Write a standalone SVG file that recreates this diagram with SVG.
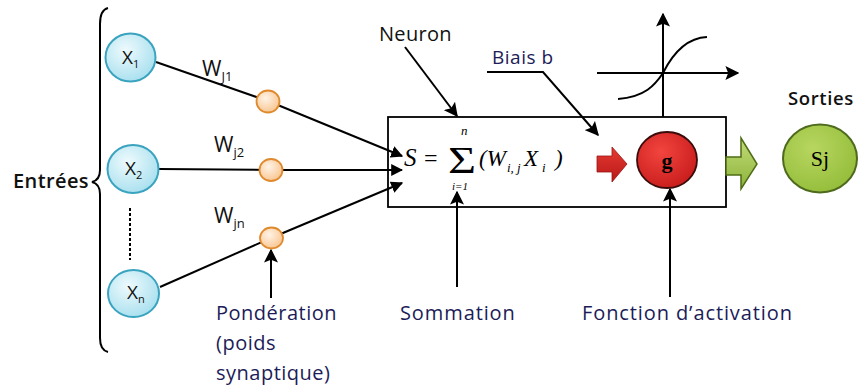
<svg xmlns="http://www.w3.org/2000/svg" width="859" height="390" viewBox="0 0 859 390">
<defs>
<radialGradient id="gBlue" cx="40%" cy="35%" r="70%"><stop offset="0" stop-color="#eefafd"/><stop offset="1" stop-color="#a6dfee"/></radialGradient>
<radialGradient id="gOrange" cx="40%" cy="35%" r="70%"><stop offset="0" stop-color="#fff3e6"/><stop offset="1" stop-color="#f8c48e"/></radialGradient>
<radialGradient id="gRed" cx="40%" cy="35%" r="70%"><stop offset="0" stop-color="#f2453f"/><stop offset="1" stop-color="#c81c1c"/></radialGradient>
<radialGradient id="gGreen" cx="40%" cy="35%" r="70%"><stop offset="0" stop-color="#b7d660"/><stop offset="1" stop-color="#94bd3a"/></radialGradient>
<linearGradient id="gRedArrow" x1="0" y1="0" x2="0" y2="1"><stop offset="0" stop-color="#e63a32"/><stop offset="1" stop-color="#b81818"/></linearGradient>
<linearGradient id="gGreenArrow" x1="0" y1="0" x2="0" y2="1"><stop offset="0" stop-color="#c2dc78"/><stop offset="1" stop-color="#8db33a"/></linearGradient>
<marker id="ah" viewBox="0 0 10 10" refX="9" refY="5" markerWidth="12" markerHeight="12" markerUnits="userSpaceOnUse" orient="auto"><path d="M0,0 L10,5 L0,10 Z" fill="#000"/></marker>
<marker id="ahL" viewBox="0 0 10 10" refX="9" refY="5" markerWidth="14" markerHeight="14" markerUnits="userSpaceOnUse" orient="auto"><path d="M0,0 L10,5 L0,10 L2,5 Z" fill="#000"/></marker>
</defs>
<style>
.ln{stroke:#000;stroke-width:2;fill:none}
.inp{fill:url(#gBlue);stroke:#3aa3bf;stroke-width:2}
.wt{fill:url(#gOrange);stroke:#e08a2e;stroke-width:1.8}
.lbl{font-family:"Open Sans","Liberation Sans",sans-serif;fill:#111}
.nv{font-family:"Open Sans","Liberation Sans",sans-serif;fill:#1c1c58;font-size:20px}
.xt{font-family:"Open Sans","Liberation Sans",sans-serif;fill:#111;font-size:19px}
.xs{font-size:11px}
.wl{font-family:"Open Sans","Liberation Sans",sans-serif;fill:#111;font-size:21px}
.ws{font-size:13px}
.fm{font-family:"Liberation Serif","Times New Roman",serif;font-style:italic;fill:#000}
.rm{font-family:"Liberation Serif","Times New Roman",serif;fill:#000}
</style>
<rect width="859" height="390" fill="#fff"/>

<g id="entrees">
<path class="ln" d="M108,8 Q100,10 100,24 L100,170 Q100,180 92,182 Q100,184 100,194 L100,338 Q100,350 108,352"/>
<text class="lbl" x="13" y="188" font-size="20" font-weight="600" letter-spacing="0.4">Entrées</text>
</g>

<g id="connectors">
<line class="ln" x1="156" y1="62" x2="268" y2="101"/>
<line class="ln" x1="268" y1="101" x2="402" y2="156" marker-end="url(#ah)"/>
<line class="ln" x1="159" y1="169" x2="271" y2="170"/>
<line class="ln" x1="271" y1="170" x2="402" y2="170" marker-end="url(#ah)"/>
<line class="ln" x1="160" y1="287" x2="271" y2="238"/>
<line class="ln" x1="271" y1="238" x2="402" y2="183" marker-end="url(#ah)"/>
<line class="ln" x1="130" y1="208" x2="130" y2="260" stroke-width="3" stroke-dasharray="3,2"/>
<line class="ln" x1="271" y1="298" x2="271" y2="250" marker-end="url(#ahL)"/>
<line class="ln" x1="405" y1="47" x2="457" y2="116" marker-end="url(#ahL)"/>
<polyline class="ln" points="487,72 543,72 598,135" marker-end="url(#ahL)"/>
<line class="ln" x1="457" y1="287" x2="457" y2="192" marker-end="url(#ahL)"/>
<line class="ln" x1="670" y1="297" x2="670" y2="189" marker-end="url(#ahL)"/>
<line class="ln" x1="663" y1="117" x2="663" y2="14" marker-end="url(#ahL)"/>
<line class="ln" x1="597" y1="73" x2="738" y2="73" marker-end="url(#ahL)"/>
<path class="ln" d="M618,99 C645,97 655,85 663,73 C672,55 685,38 707,37"/>
</g>

<g id="x1"><ellipse class="inp" cx="130.5" cy="57.5" rx="25" ry="24"/><text class="xt" x="122" y="64">X<tspan class="xs" dy="4">1</tspan></text></g>
<g id="x2"><ellipse class="inp" cx="133" cy="169" rx="25.5" ry="24"/><text class="xt" x="125" y="175">X<tspan class="xs" dy="4">2</tspan></text></g>
<g id="xn"><ellipse class="inp" cx="133.5" cy="293.5" rx="25.5" ry="23.5"/><text class="xt" x="127" y="299">X<tspan class="xs" dy="4">n</tspan></text></g>

<g id="w1"><ellipse class="wt" cx="268" cy="101.5" rx="11.5" ry="11"/><text class="wl" x="202" y="76">W<tspan class="ws" dy="5">J1</tspan></text></g>
<g id="w2"><ellipse class="wt" cx="271" cy="170" rx="11.5" ry="11"/><text class="wl" x="214" y="152">W<tspan class="ws" dy="5">j2</tspan></text></g>
<g id="wn"><ellipse class="wt" cx="271.5" cy="238" rx="11.5" ry="10.5"/><text class="wl" x="214" y="223">W<tspan class="ws" dy="5">jn</tspan></text></g>

<g id="neuron">
<rect x="388" y="117" width="338" height="90" fill="none" stroke="#000" stroke-width="1.8"/>
<text class="fm" x="404" y="166" font-size="25">S</text>
<text class="rm" x="424" y="166" font-size="24">=</text>
<text class="rm" font-size="37" transform="translate(448,173) scale(1.3,1)">Σ</text>
<text class="fm" x="461" y="135" font-size="13">n</text>
<text class="fm" x="452" y="190" font-size="11">i=1</text>
<text class="fm" font-size="23" x="479" y="166">(W</text>
<text class="fm" font-size="13" x="507" y="172">i, j</text>
<text class="fm" font-size="23" x="524" y="166">X</text>
<text class="fm" font-size="13" x="542" y="172">i</text>
<text class="fm" font-size="23" x="555" y="166">)</text>
<path d="M597,156 L612,156 L612,147 L627,164 L612,182 L612,172 L597,172 Z" fill="url(#gRedArrow)" stroke="#9a1414" stroke-width="0.8"/>
</g>

<g id="g">
<ellipse cx="667" cy="160" rx="30" ry="28" fill="url(#gRed)" stroke="#3a0c0c" stroke-width="1.8"/>
<text class="rm" x="667" y="168" text-anchor="middle" font-weight="bold" font-size="22" fill="#1a0a0a">g</text>
</g>

<g id="outArrow">
<path d="M726,157 L741,157 L741,138 L757,164 L741,189 L741,175 L726,175 Z" fill="url(#gGreenArrow)" stroke="#4f6d14" stroke-width="1.5"/>
</g>

<g id="sj">
<ellipse cx="820" cy="158.5" rx="37" ry="34" fill="url(#gGreen)" stroke="#4e6a1c" stroke-width="2"/>
<text class="rm" x="820" y="166" text-anchor="middle" font-size="22" fill="#1a1a1a">Sj</text>
<text class="lbl" x="788" y="105" font-size="18.5" font-weight="600" letter-spacing="0.6">Sorties</text>
</g>

<g id="labels">
<text class="lbl" x="379" y="41" font-size="20" letter-spacing="0.3">Neuron</text>
<text class="nv" x="492" y="64" style="font-size:19px;letter-spacing:0.5px">Biais b</text>
<text class="nv" x="216" y="320" style="letter-spacing:0.5px">Pondération</text>
<text class="nv" x="216" y="350" style="letter-spacing:0.5px">(poids</text>
<text class="nv" x="216" y="380" style="letter-spacing:0.5px">synaptique)</text>
<text class="nv" x="400" y="320" style="letter-spacing:0.9px">Sommation</text>
<text class="nv" x="582" y="320" style="letter-spacing:0.9px">Fonction d’activation</text>
</g>
</svg>
